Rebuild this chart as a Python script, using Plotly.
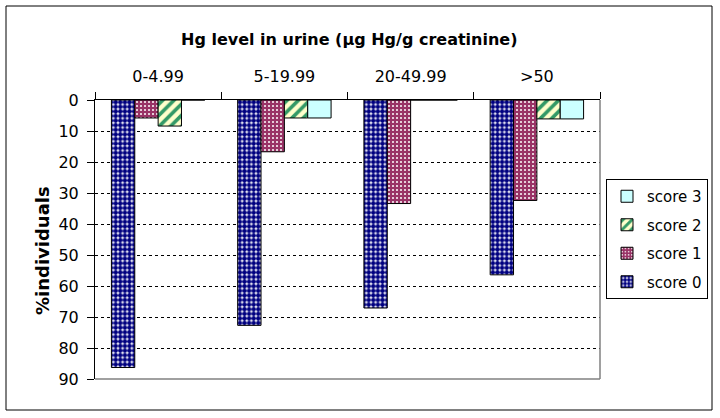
import plotly.graph_objects as go

categories = ["0-4.99", "5-19.99", "20-49.99", ">50"]
score0 = [86.3, 72.7, 67.1, 56.4]
score1 = [5.8, 16.7, 33.4, 32.4]
score2 = [8.4, 5.8, 0, 6.1]
score3 = [0, 5.8, 0, 6.1]
series_names = ["score 0", "score 1", "score 2", "score 3"]
y_ticks = [0, 10, 20, 30, 40, 50, 60, 70, 80, 90]
x_title = "Hg level in urine (µg Hg/g creatinine)"
y_title = "%individuals"

FONT = "DejaVu Sans, Liberation Sans, Arial"

styles = [
    dict(color="white", pattern=dict(shape=".", fgcolor="#000080", bgcolor="white",
                                     size=4.6, solidity=0.75, fillmode="replace")),
    dict(color="#993366", pattern=dict(shape=".", fgcolor="#ffffff", bgcolor="#993366",
                                       size=4, solidity=0.2, fillmode="replace")),
    dict(color="#FFFFCC", pattern=dict(shape="/", fgcolor="#339966", bgcolor="#FFFFCC",
                                       size=8, solidity=0.45, fillmode="replace")),
    dict(color="#CCFFFF"),
]

fig = go.Figure()
for i, (name, vals, st) in enumerate(zip(series_names, [score0, score1, score2, score3], styles)):
    fig.add_trace(go.Bar(
        x=categories, y=vals, name=name, legendgroup=name, legendrank=1000 - i,
        marker=dict(line=dict(color="black", width=1), **st),
    ))

W, H = 720, 418
L, R, T, B = 95, 120, 100, 39
pw, ph = W - L - R, H - T - B


def px_x(p):
    return (p - L) / pw


def px_y(p):
    return (H - B - p) / ph


fig.update_layout(
    width=W, height=H,
    margin=dict(l=L, r=R, t=T, b=B),
    paper_bgcolor="white", plot_bgcolor="white",
    barmode="group", bargap=0.26, bargroupgap=0,
    font=dict(family=FONT, size=16, color="black"),
    showlegend=True,
    legend=dict(
        x=px_x(708), y=px_y(179), xanchor="right", yanchor="top",
        traceorder="grouped", tracegroupgap=6,
        bordercolor="black", borderwidth=1, bgcolor="white",
        font=dict(family=FONT, size=15),
        itemwidth=30,
    ),
    xaxis=dict(
        side="top", type="category",
        tickfont=dict(family=FONT, size=16),
        showline=True, linecolor="black", linewidth=1, mirror=False,
        ticks="outside", tickson="boundaries", ticklen=7, tickcolor="black",
        ticklabelstandoff=11,
        showgrid=False,
    ),
    yaxis=dict(
        range=[90, 0], tickvals=y_ticks,
        tickfont=dict(family=FONT, size=16),
        showline=True, linecolor="black", linewidth=1,
        ticks="outside", ticklen=7, tickcolor="black",
        ticklabelstandoff=5,
        showgrid=True, gridcolor="black", griddash="3px,3px", gridwidth=1,
        zeroline=False,
    ),
)

fig.add_annotation(text="<b>" + x_title + "</b>", xref="paper", yref="paper",
                   x=px_x(349), y=px_y(40), xanchor="center", yanchor="middle",
                   showarrow=False, font=dict(family=FONT, size=16))
fig.add_annotation(text="<b>" + y_title + "</b>", xref="paper", yref="paper",
                   x=px_x(42), y=px_y(251), xanchor="center", yanchor="middle",
                   textangle=-90, showarrow=False, font=dict(family=FONT, size=18))

# plot-area border (grey) on bottom and right
fig.add_shape(type="line", xref="paper", yref="paper", x0=0, x1=1, y0=0, y1=0,
              line=dict(color="#808080", width=1.5))
fig.add_shape(type="line", xref="paper", yref="paper", x0=1, x1=1, y0=0, y1=1,
              line=dict(color="#808080", width=1.5))
# outer chart border
fig.add_shape(type="rect", xref="paper", yref="paper",
              x0=px_x(6), x1=px_x(712), y0=px_y(410), y1=px_y(6),
              line=dict(color="black", width=1), layer="below")

fig.write_html("out.html", config={"displayModeBar": False},
               post_script="document.body.style.margin='0';document.body.style.padding='0';")
